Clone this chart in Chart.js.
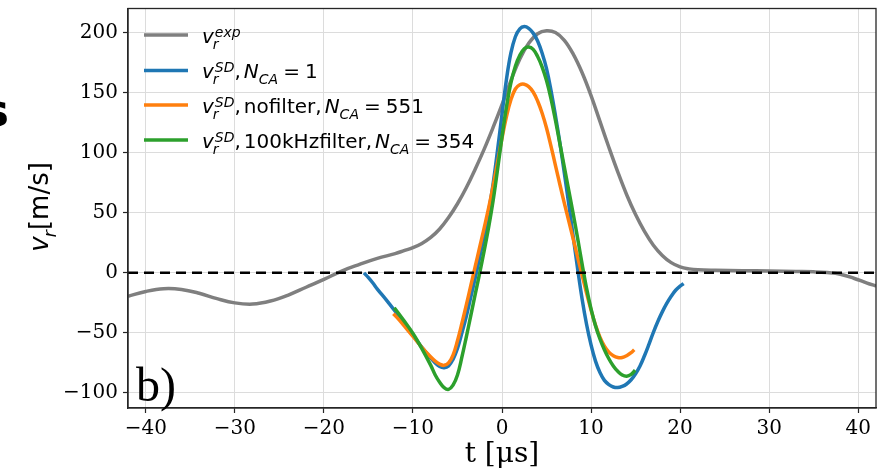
<!DOCTYPE html>
<html>
<head>
<meta charset="utf-8">
<script src="https://cdn.jsdelivr.net/npm/chart.js@4.4.1/dist/chart.umd.min.js"></script>
<style>
  html, body { margin: 0; padding: 0; background: #fff; }
  #chart { display: block; }
</style>
</head>
<body>
<canvas id="chart" width="884" height="472"></canvas>
<script>
// valores (t en µs, v en m/s)
const tExp = [-42, -40, -38, -36, -34, -32, -30, -28, -26, -24, -22, -20, -18, -16, -14, -12, -11, -10, -9, -8, -7, -6, -5, -4, -3, -2, -1, 0, 1, 2, 3, 4, 5, 6, 7, 8, 9, 10, 11, 12, 13, 14, 15, 16, 17, 18, 19, 20, 21, 22, 24, 27, 30, 33, 35, 36.5, 38, 39.5, 41, 42];
const vExp = [-19.5, -15.5, -13.2, -13.8, -17, -21.5, -25, -26, -23.5, -18.5, -12, -5.5, 1.5, 7, 12, 16, 18.5, 21, 24.5, 29.5, 36.5, 46, 57.5, 71, 86.5, 103, 121, 140, 160, 178, 191, 199, 201.5, 200, 193.5, 182, 166.5, 147.5, 126, 104.5, 84, 65, 48.5, 34.5, 23, 14.5, 8.5, 5, 3.3, 2.5, 2.1, 1.8, 1.5, 1.1, 0.8, 0.2, -1.2, -4.5, -8.5, -11];

const tCa1 = [-15.5, -15, -14.5, -14, -13, -12, -11, -10, -9, -8, -7.5, -7, -6.5, -6, -5.5, -5, -4.5, -4, -3.5, -3, -2.5, -2, -1.5, -1, -0.5, 0, 0.5, 1, 1.5, 2, 2.5, 3, 3.5, 4, 4.5, 5, 5.5, 6, 6.5, 7, 7.5, 8, 8.5, 9, 9.5, 10, 10.5, 11, 11.5, 12, 12.5, 13, 13.5, 14, 14.5, 15, 15.5, 16, 16.5, 17, 17.5, 18, 18.5, 19, 19.5, 20, 20.4];
const vCa1 = [0, -4, -8.5, -13.5, -22.5, -32, -42, -52, -62, -71, -75, -78, -79, -77.5, -72, -63, -50, -36, -20, -4, 13, 31, 51, 74, 102, 132, 161, 183, 196.5, 203, 205, 203.5, 199.5, 193, 183, 170, 152, 131, 108, 83, 57, 30, 3, -22, -43, -60, -73.5, -83, -89.5, -93, -95, -95.5, -94.5, -92.5, -89, -84, -77.5, -69, -59.5, -49.5, -40.5, -32.5, -25.5, -19.5, -14.5, -11, -9];

const tNoFilt = [-12.2, -11.5, -11, -10, -9, -8, -7.5, -7, -6.5, -6, -5.5, -5, -4.5, -4, -3.5, -3, -2.5, -2, -1.5, -1, -0.5, 0, 0.5, 1, 1.5, 2, 2.5, 3, 3.5, 4, 4.5, 5, 5.5, 6, 6.5, 7, 7.5, 8, 8.5, 9, 9.5, 10, 10.5, 11, 11.5, 12, 12.5, 13, 13.5, 14, 14.5, 14.85];
const vNoFilt = [-34, -39.5, -44, -53, -62, -70, -73.5, -76, -77, -75, -68.5, -56.5, -42, -26.5, -10.5, 5.5, 21.5, 37.5, 54, 72, 92, 112, 130, 144, 153, 156.5, 157, 155, 150.5, 143, 133, 120.5, 105.5, 89.5, 73.5, 58, 43, 28, 13, -2, -17, -31, -43.5, -53.5, -61, -66, -69, -70.5, -70.5, -69, -66.5, -64];

const tFilt = [-12.1, -11.5, -11, -10, -9, -8, -7.5, -7, -6.5, -6, -5.5, -5, -4.5, -4, -3.5, -3, -2.5, -2, -1.5, -1, -0.5, 0, 0.5, 1, 1.5, 2, 2.5, 3, 3.5, 4, 4.5, 5, 5.5, 6, 6.5, 7, 7.5, 8, 8.5, 9, 9.5, 10, 10.5, 11, 11.5, 12, 12.5, 13, 13.5, 14, 14.5, 14.95];
const vFilt = [-29, -35, -40, -50.5, -63, -77, -85, -91, -95.5, -97, -93.5, -85, -70, -53, -35.5, -17.5, 0, 18.5, 38, 60, 86, 113, 138, 158, 172, 181, 186.5, 188, 186, 180, 171.5, 160, 145, 127, 107.5, 88, 68.5, 49, 28.5, 7, -13, -30, -44, -55, -64, -71.5, -77.5, -82, -85, -86, -84.5, -81];

const tCero = [-42, 42];
const vCero = [0, 0];

const xTicks = [-40, -30, -20, -10, 0, 10, 20, 30, 40];
const yTicks = [-100, -50, 0, 50, 100, 150, 200];

// leyenda: superíndice, texto intermedio, N_CA
const legendSup = ['exp', 'SD', 'SD', 'SD'];
const legendNota = ['', '', 'nofilter', '100kHzfilter'];
const legendNca = [null, '1', '551', '354'];
const colores = ['#7f7f7f', '#1f77b4', '#ff7f0e', '#2ca02c'];

const puntos = (ts, vs) => ts.map((t, i) => ({ x: t, y: vs[i] }));

function serie(ts, vs, color, orden) {
    return {
        data: puntos(ts, vs),
        borderColor: color,
        borderWidth: 3.5,
        pointRadius: 0,
        fill: false,
        tension: 0.4,
        order: orden
    };
}

const SANS = '"DejaVu Sans"';

function txt(ctx, s, font, x, y) {
    ctx.font = font;
    ctx.fillText(s, x, y);
    return ctx.measureText(s).width;
}

// v_r con superíndice opcional, devuelve x final
function dibujarVr(ctx, x, y, sup, fs) {
    const ss = Math.round(fs * 0.7);
    x += txt(ctx, 'v', `italic ${fs}px ${SANS}`, x, y);
    let w1 = 0;
    if (sup) w1 = txt(ctx, sup, `italic ${ss}px ${SANS}`, x + 1, y - fs * 0.3) + 1;
    const w2 = txt(ctx, 'r', `italic ${ss}px ${SANS}`, x - 1, y + fs * 0.3) - 1;
    return x + Math.max(w1, w2);
}

const anotaciones = {
    id: 'anotaciones',
    afterDraw(chart) {
        const { ctx, chartArea: a } = chart;
        ctx.save();

        // marco completo
        ctx.strokeStyle = '#262626';
        ctx.lineWidth = 1.3;
        ctx.strokeRect(a.left, a.top, a.right - a.left, a.bottom - a.top);

        // leyenda
        const fs = 20;
        const filas = [35, 70.5, 105, 140];
        ctx.textBaseline = 'alphabetic';
        ctx.textAlign = 'left';
        filas.forEach((fy, i) => {
            ctx.strokeStyle = colores[i];
            ctx.lineWidth = 3.5;
            ctx.beginPath();
            ctx.moveTo(144, fy);
            ctx.lineTo(188, fy);
            ctx.stroke();

            ctx.fillStyle = '#000';
            const base = fy + 7.5;
            let x = dibujarVr(ctx, 202, base, legendSup[i], fs);
            if (legendNca[i] !== null) {
                x += txt(ctx, ',', `${fs}px ${SANS}`, x, base) + 3;
                if (legendNota[i]) {
                    x += txt(ctx, legendNota[i], `${fs}px ${SANS}`, x, base);
                    x += txt(ctx, ',', `${fs}px ${SANS}`, x, base) + 3;
                }
                x += txt(ctx, 'N', `italic ${fs}px ${SANS}`, x, base);
                x += txt(ctx, 'CA', `italic ${Math.round(fs * 0.7)}px ${SANS}`, x, base + fs * 0.3) + 5;
                x += txt(ctx, '=', `${fs}px ${SANS}`, x, base) + 5;
                txt(ctx, legendNca[i], `${fs}px ${SANS}`, x, base);
            }
        });

        // título eje y
        ctx.save();
        ctx.translate(48, 207);
        ctx.rotate(-Math.PI / 2);
        const fy = 26;
        ctx.font = `italic ${fy}px ${SANS}`;
        let ancho = ctx.measureText('v').width;
        ctx.font = `italic ${Math.round(fy * 0.7)}px ${SANS}`;
        ancho += ctx.measureText('r').width - 1;
        ctx.font = `${fy}px ${SANS}`;
        ancho += ctx.measureText('[m/s]').width;
        let x = dibujarVr(ctx, -ancho / 2, 0, '', fy);
        txt(ctx, '[m/s]', `${fy}px ${SANS}`, x, 0);
        ctx.restore();

        // etiqueta del panel
        ctx.fillStyle = '#000';
        txt(ctx, 'b)', `48px "Liberation Serif"`, 136, 401);

        // resto de la letra del panel vecino
        ctx.textAlign = 'right';
        txt(ctx, 's', `bold 44px ${SANS}`, 9, 126);

        ctx.restore();
    }
};

const menos = v => (v < 0 ? '\u2212' + Math.abs(v) : String(v));

function sinRelleno(s) {
    s.paddingTop = 0;
    s.paddingBottom = 0;
    s.paddingLeft = 0;
    s.paddingRight = 0;
}

new Chart(document.getElementById('chart'), {
    type: 'line',
    data: {
        datasets: [
            serie(tExp, vExp, colores[0], 5),
            serie(tCa1, vCa1, colores[1], 4),
            serie(tNoFilt, vNoFilt, colores[2], 3),
            serie(tFilt, vFilt, colores[3], 2),
            {
                data: puntos(tCero, vCero),
                borderColor: '#000',
                borderWidth: 2.5,
                borderDash: [10, 6],
                pointRadius: 0,
                order: 1
            }
        ]
    },
    options: {
        responsive: false,
        animation: false,
        events: [],
        layout: { padding: { left: 0, right: 8, top: 8.5, bottom: 0 } },
        plugins: { legend: { display: false }, tooltip: { enabled: false } },
        scales: {
            x: {
                type: 'linear',
                min: -42,
                max: 42,
                afterBuildTicks: s => { s.ticks = xTicks.map(v => ({ value: v })); },
                afterFit: s => { s.height = 64; sinRelleno(s); },
                ticks: {
                    callback: menos,
                    color: '#000',
                    padding: 4,
                    maxRotation: 0,
                    font: { family: 'DejaVu Serif', size: 20 }
                },
                grid: { color: '#dcdcdc', lineWidth: 1, tickLength: 5, tickColor: '#262626', tickWidth: 1.2 },
                border: { color: '#262626', width: 1.3 },
                title: {
                    display: true,
                    text: 't [\u03bcs]',
                    color: '#000',
                    padding: { top: 0, bottom: 0 },
                    font: { family: 'DejaVu Serif', size: 28, lineHeight: 1.2 }
                }
            },
            y: {
                type: 'linear',
                min: -112.5,
                max: 220,
                afterBuildTicks: s => { s.ticks = yTicks.map(v => ({ value: v })); },
                afterFit: s => { s.width = 128; sinRelleno(s); },
                ticks: {
                    callback: menos,
                    color: '#000',
                    padding: 5,
                    font: { family: 'DejaVu Serif', size: 20 }
                },
                grid: { color: '#dcdcdc', lineWidth: 1, tickLength: 5, tickColor: '#262626', tickWidth: 1.2 },
                border: { color: '#262626', width: 1.3 }
            }
        }
    },
    plugins: [anotaciones]
});
</script>
</body>
</html>
